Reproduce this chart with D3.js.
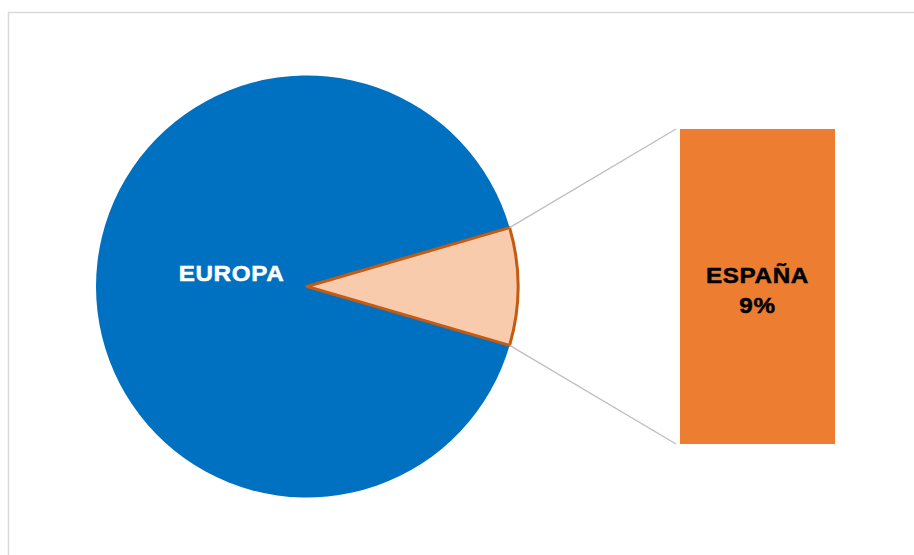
<!DOCTYPE html>
<html>
<head>
<meta charset="utf-8">
<script src="https://cdn.jsdelivr.net/npm/d3@7"></script>
<style>
  html, body { margin: 0; padding: 0; background: #ffffff; }
  svg { display: block; }
  text { font-family: "Liberation Sans", Arial, sans-serif; font-weight: bold; }
</style>
</head>
<body>
<svg id="chart" width="914" height="555"></svg>
<script>
// Share of Spain inside Europe (percent)
const categories = ["EUROPA", "ESPAÑA"];
const values = [91, 9];
const pieColors = ["#0070C0", "#F8CBAD"];
const barLabel = ["ESPAÑA", "9%"];

const svg = d3.select("#chart");

// chart area frame
svg.append("rect")
  .attr("x", 8.5).attr("y", 12.5)
  .attr("width", 940).attr("height", 600)
  .attr("fill", "#ffffff")
  .attr("stroke", "#D9D9D9")
  .attr("stroke-width", 1.5);

const cx = 307, cy = 286.5, radius = 211;
const spainShare = values[1] / d3.sum(values);

// the Spain slice is centred on the 3 o'clock direction
const pie = d3.pie().sort(null)
  .startAngle(Math.PI / 2 + spainShare * Math.PI)
  .endAngle(Math.PI / 2 + spainShare * Math.PI + 2 * Math.PI);
const arcs = pie(values);
const arc = d3.arc().innerRadius(0).outerRadius(radius);

const g = svg.append("g").attr("transform", `translate(${cx},${cy})`);

g.selectAll("path.slice")
  .data(arcs)
  .join("path")
  .attr("class", "slice")
  .attr("d", arc)
  .attr("fill", (d, i) => pieColors[i])
  .attr("stroke", (d, i) => i === 1 ? "#C55A11" : "none")
  .attr("stroke-width", 3)
  .attr("stroke-linejoin", "round");

// wide heavy label helper
function wideLabel(parent, x, y, txt, color) {
  return parent.append("text")
    .attr("transform", `translate(${x},${y}) scale(1.1,1)`)
    .attr("text-anchor", "middle")
    .attr("fill", color)
    .attr("stroke", color)
    .attr("stroke-width", 0.5)
    .attr("font-size", 22)
    .attr("letter-spacing", 0.6)
    .text(txt);
}

// label for the large slice
wideLabel(svg, 231.5, 280.5, categories[0], "#ffffff");

// secondary bar that breaks out the Spain slice
const barX = d3.scaleBand().domain([categories[1]]).range([680, 835]).padding(0);
const barY = d3.scaleLinear().domain([0, values[1]]).range([444, 129]);

const spainArc = arcs[1];
const pt = a => [cx + radius * Math.sin(a), cy - radius * Math.cos(a)];
const pTop = pt(spainArc.startAngle);
const pBot = pt(spainArc.endAngle);

const lines = [
  [pTop, [barX(categories[1]) - 4, barY(values[1])]],
  [pBot, [barX(categories[1]) - 4, barY(0)]]
];
svg.selectAll("line.connector")
  .data(lines)
  .join("line")
  .attr("class", "connector")
  .attr("x1", d => d[0][0]).attr("y1", d => d[0][1])
  .attr("x2", d => d[1][0]).attr("y2", d => d[1][1])
  .attr("stroke", "#BFBFBF")
  .attr("stroke-width", 1.4);

svg.append("rect")
  .attr("x", barX(categories[1]))
  .attr("y", barY(values[1]))
  .attr("width", barX.bandwidth())
  .attr("height", barY(0) - barY(values[1]))
  .attr("fill", "#ED7D31");

const bx = barX(categories[1]) + barX.bandwidth() / 2;
wideLabel(svg, bx, 282.5, barLabel[0], "#000000");
wideLabel(svg, bx, 312.5, barLabel[1], "#000000");
</script>
</body>
</html>
